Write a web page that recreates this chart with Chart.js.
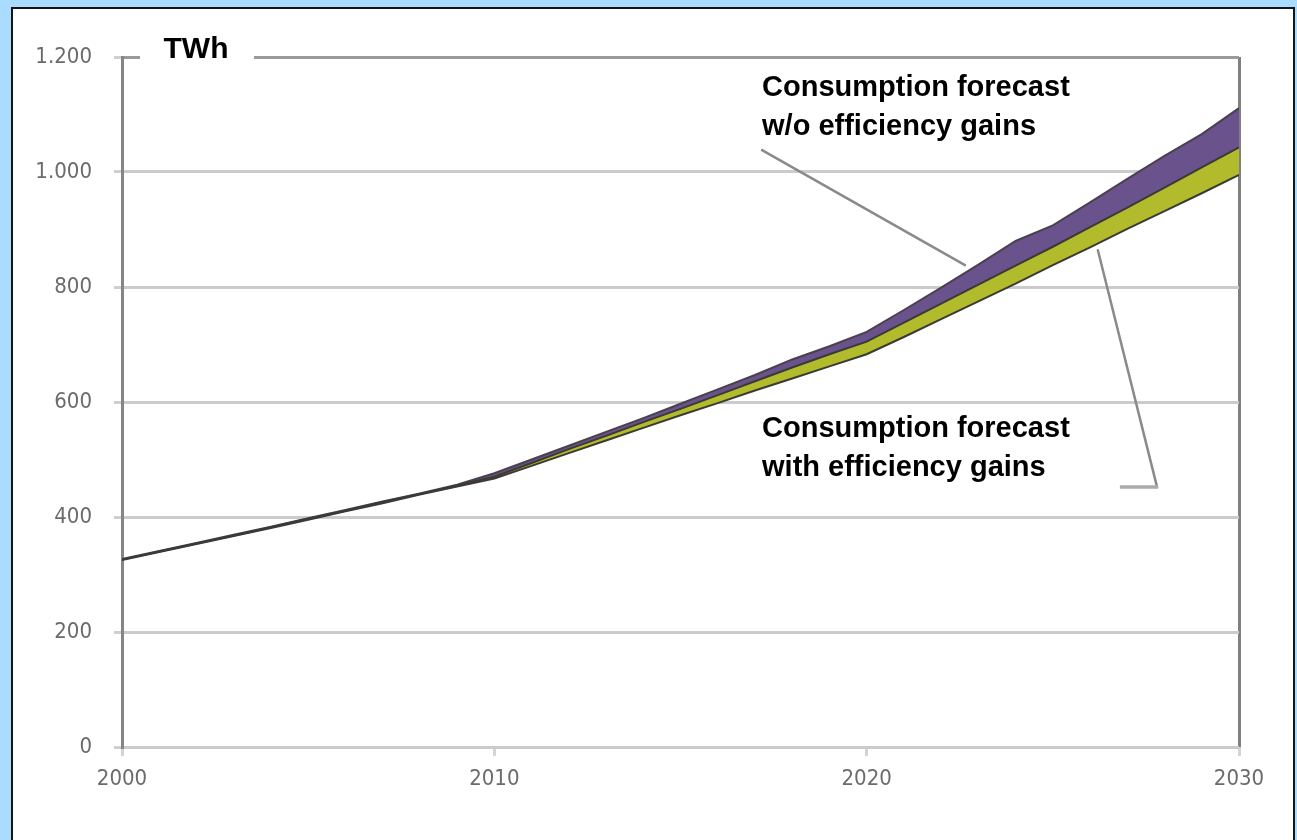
<!DOCTYPE html>
<html>
<head>
<meta charset="utf-8">
<title>Consumption forecast</title>
<script src="https://cdn.jsdelivr.net/npm/chart.js@4.4.1/dist/chart.umd.min.js"></script>
<style>
  html, body { margin: 0; padding: 0; background: #aadcff; overflow: hidden; }
  #panel { position: absolute; left: 11px; top: 7px; width: 1280px; height: 860px; background: #fff; border: 2px solid #151515; }
  #chart { position: absolute; left: 0; top: 0; }
</style>
</head>
<body>
<div id="panel"></div>
<canvas id="chart" width="1297" height="840"></canvas>
<script>
// --- data (TWh) ---
const years = [2000, 2001, 2002, 2003, 2004, 2005, 2006, 2007, 2008, 2009, 2010,
  2011, 2012, 2013, 2014, 2015, 2016, 2017, 2018, 2019, 2020,
  2021, 2022, 2023, 2024, 2025, 2026, 2027, 2028, 2029, 2030];

// lower edge of the bands
const baseLine = [325, 339, 353, 367, 381, 395, 410, 424, 439, 453, 467,
  489, 511, 533, 555, 577, 598, 620, 641, 662, 683,
  713, 744, 775, 806, 838, 869, 901, 932, 963, 995];

// forecast with efficiency gains (top of yellow band)
const withEfficiency = [326, 340, 354, 368, 382, 397, 411, 426, 440, 455, 470,
  494, 518, 541, 565, 588, 612, 636, 660, 683, 705,
  738, 771, 804, 837, 870, 904, 938, 973, 1008, 1043];

// forecast w/o efficiency gains (top of purple band)
const withoutEfficiency = [327, 341, 355, 369, 383, 398, 412, 427, 441, 456, 476,
  500, 524, 548, 572, 597, 622, 647, 674, 697, 722,
  760, 799, 839, 880, 907, 947, 988, 1028, 1066, 1111];

const yTicks = [0, 200, 400, 600, 800, 1000, 1200];
const xTicks = [2000, 2010, 2020, 2030];

const toPoints = (values) => years.map((yr, i) => ({ x: yr, y: values[i] }));

const LINE = '#3b3a35';
const TEXT_FONT = 'bold 29px "Liberation Sans", Arial, sans-serif';

// callouts: anchors and leader lines in data units
const calloutLabels = [
  { x: 2017.19, y: 1146, lines: ['Consumption forecast', 'w/o efficiency gains'] },
  { x: 2017.19, y: 553, lines: ['Consumption forecast', 'with efficiency gains'] }
];
const leaderWithout = [[2017.19, 1038], [2022.64, 838]];
const leaderWith = [[2026.21, 864], [2027.80, 452], [2026.80, 452]];

const annotations = {
  id: 'annotations',
  afterDraw(chart) {
    const { ctx, chartArea } = chart;
    const x = chart.scales.x;
    const y = chart.scales.y;
    ctx.save();

    // unit label sitting on the top grid line
    ctx.fillStyle = '#fff';
    ctx.fillRect(chartArea.left + 18, chartArea.top - 10, 114, 14);
    ctx.fillStyle = '#000';
    ctx.font = 'bold 30px "Liberation Sans", Arial, sans-serif';
    ctx.textAlign = 'center';
    ctx.textBaseline = 'middle';
    ctx.fillText('TWh', chartArea.left + 74, chartArea.top - 7);

    // leader lines
    ctx.lineCap = 'round';
    ctx.strokeStyle = '#8a8a8a';
    ctx.lineWidth = 2.5;
    ctx.beginPath();
    leaderWithout.forEach(([vx, vy], i) => {
      const px = x.getPixelForValue(vx), py = y.getPixelForValue(vy);
      i ? ctx.lineTo(px, py) : ctx.moveTo(px, py);
    });
    ctx.stroke();

    ctx.beginPath();
    ctx.moveTo(x.getPixelForValue(leaderWith[0][0]), y.getPixelForValue(leaderWith[0][1]));
    ctx.lineTo(x.getPixelForValue(leaderWith[1][0]), y.getPixelForValue(leaderWith[1][1]));
    ctx.stroke();
    ctx.strokeStyle = '#ababab';
    ctx.lineWidth = 3.5;
    ctx.lineCap = 'butt';
    ctx.beginPath();
    ctx.moveTo(x.getPixelForValue(leaderWith[1][0]) + 1, y.getPixelForValue(leaderWith[1][1]));
    ctx.lineTo(x.getPixelForValue(leaderWith[2][0]), y.getPixelForValue(leaderWith[2][1]));
    ctx.stroke();

    // callout texts
    ctx.fillStyle = '#000';
    ctx.font = TEXT_FONT;
    ctx.textAlign = 'left';
    ctx.textBaseline = 'middle';
    calloutLabels.forEach(label => {
      const px = x.getPixelForValue(label.x);
      const py = y.getPixelForValue(label.y);
      label.lines.forEach((line, i) => ctx.fillText(line, px, py + i * 39));
    });
    ctx.restore();
  }
};

new Chart(document.getElementById('chart'), {
  type: 'line',
  data: {
    datasets: [
      {
        label: 'Base',
        data: toPoints(baseLine),
        borderColor: LINE,
        borderWidth: 2,
        pointRadius: 0,
        fill: false
      },
      {
        label: 'Consumption forecast with efficiency gains',
        data: toPoints(withEfficiency),
        borderColor: LINE,
        borderWidth: 2,
        pointRadius: 0,
        backgroundColor: '#b1bb2b',
        fill: '-1'
      },
      {
        label: 'Consumption forecast w/o efficiency gains',
        data: toPoints(withoutEfficiency),
        borderColor: '#4a4050',
        borderWidth: 2,
        pointRadius: 0,
        backgroundColor: '#6a528c',
        fill: '-1'
      }
    ]
  },
  options: {
    responsive: false,
    animation: false,
    layout: { padding: { left: 0, top: 57, right: 58, bottom: 0 } },
    plugins: {
      legend: { display: false },
      tooltip: { enabled: false }
    },
    scales: {
      x: {
        type: 'linear',
        min: 2000,
        max: 2030,
        afterFit: (scale) => { scale.height = 93; },
        afterBuildTicks: (scale) => { scale.ticks = xTicks.map(v => ({ value: v })); },
        border: { display: false },
        grid: {
          color: (c) => c.tick && c.tick.value === 2030 ? '#808080' : 'rgba(0,0,0,0)',
          tickColor: '#d4d4d4',
          lineWidth: 3,
          tickLength: 9
        },
        ticks: {
          padding: 10,
          color: '#6b6b6b',
          font: { family: '"DejaVu Sans Condensed", "DejaVu Sans", sans-serif', size: 22 },
          callback: (v) => String(v)
        }
      },
      y: {
        min: 0,
        max: 1200,
        afterFit: (scale) => { scale.width = 122; },
        afterBuildTicks: (scale) => { scale.ticks = yTicks.map(v => ({ value: v })); },
        border: { display: true, color: '#858585', width: 3 },
        grid: {
          color: (c) => c.tick && c.tick.value === 1200 ? '#9a9a9a' : '#cbcbcb',
          tickColor: '#cfcfcf',
          lineWidth: 3,
          tickLength: 8
        },
        ticks: {
          padding: 22,
          color: '#6b6b6b',
          font: { family: '"DejaVu Sans Condensed", "DejaVu Sans", sans-serif', size: 22 },
          callback: (v) => v >= 1000 ? Math.floor(v / 1000) + '.' + String(v % 1000).padStart(3, '0') : String(v)
        }
      }
    }
  },
  plugins: [annotations]
});
</script>
</body>
</html>
